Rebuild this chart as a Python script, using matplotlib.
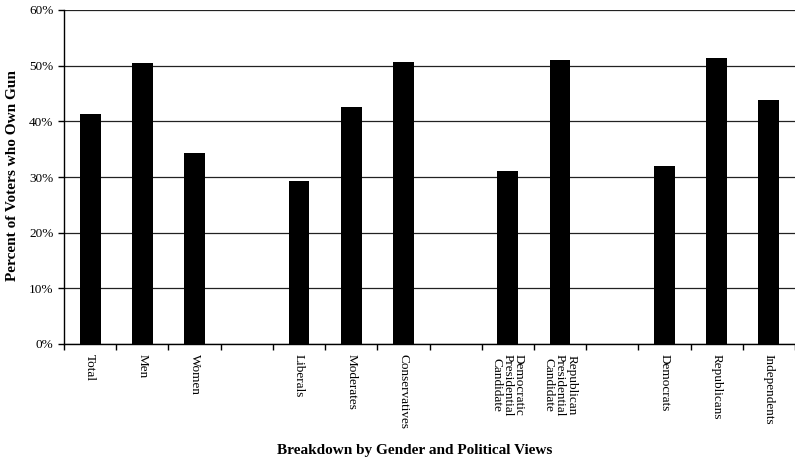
import numpy as np
import matplotlib
matplotlib.use("Agg")
from matplotlib import pyplot as plt
from matplotlib.ticker import FuncFormatter, MultipleLocator

# categories as on the x axis, '' = empty gap slot
labels = ["Total", "Men", "Women", "",
          "Liberals", "Moderates", "Conservatives", "",
          "Democratic\nPresidential\nCandidate", "Republican\nPresidential\nCandidate", "",
          "Democrats", "Republicans", "Independents"]
# percent of voters who own a gun
gun_pct = [41.4, 50.4, 34.3, np.nan,
           29.3, 42.5, 50.7, np.nan,
           31.0, 51.1, np.nan,
           32.0, 51.4, 43.9]

plt.rcParams['font.family'] = ['Liberation Serif', 'DejaVu Serif']

fig = plt.figure(figsize=(7.95, 4.63), dpi=100)
ax = fig.add_axes([64/795, 1-344/463, 1-64/795, (344-10)/463])

x = np.arange(len(labels))
ax.bar(x, gun_pct, width=0.4, color='black', zorder=3)

ax.set_xlim(-0.5, len(labels)-0.5)
ax.set_ylim(0, 60)
ax.yaxis.set_major_locator(MultipleLocator(10))
ax.yaxis.set_major_formatter(FuncFormatter(lambda v, p: "%d%%" % v))
ax.grid(axis='y', color='#222222', linewidth=0.9, zorder=1)

# labels centred in slots, tick marks between slots (excel style)
ax.set_xticks(x)
ax.set_xticklabels(labels, rotation=270, fontsize=9.5, va='top', ha='center', linespacing=0.9)
ax.set_xticks(np.arange(len(labels)+1)-0.5, minor=True)
ax.tick_params(axis='x', which='major', length=0, pad=7)
ax.tick_params(axis='x', which='minor', length=4, width=1, direction='out')
ax.tick_params(axis='y', length=4, width=1, direction='out', labelsize=9.5)

for s in ['top', 'right']:
    ax.spines[s].set_visible(False)
ax.spines['left'].set_linewidth(1)
ax.spines['bottom'].set_linewidth(1)

ax.set_ylabel("Percent of Voters who Own Gun", fontsize=11, fontweight='bold')
ax.yaxis.set_label_coords(-0.062, 0.505)
ax.set_xlabel("Breakdown by Gender and Political Views", fontsize=11, fontweight='bold')
ax.xaxis.set_label_coords(0.48, -0.30)

plt.savefig("out.png", dpi=100)
